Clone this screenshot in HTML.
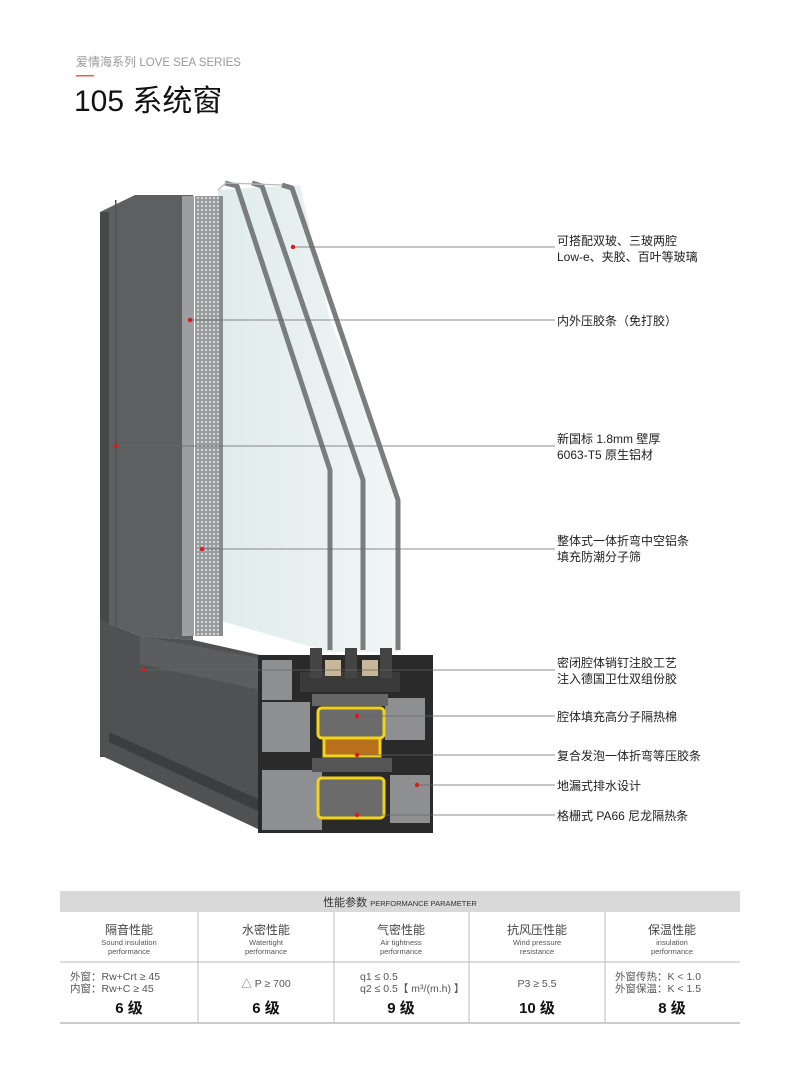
<!DOCTYPE html>
<html><head><meta charset="utf-8"><style>
body{margin:0;width:800px;height:1080px;background:#fff;overflow:hidden;font-family:"Liberation Sans","Noto Sans CJK SC",sans-serif}
</style></head><body>
<svg width="800" height="1080" xmlns="http://www.w3.org/2000/svg" style="position:absolute;left:0;top:0">
<defs>
<linearGradient id="gl" x1="0" x2="1"><stop offset="0" stop-color="#dfeceb"/><stop offset="1" stop-color="#f1f6f5"/></linearGradient>
<pattern id="dots" width="4" height="4" patternUnits="userSpaceOnUse"><rect width="4" height="4" fill="#9a9d9e"/><rect x="1" y="1" width="2" height="2" fill="#d2d5d5"/></pattern>
</defs>
<text x="76" y="66" font-size="12" fill="#999">爱情海系列 <tspan font-size="11.5">LOVE SEA SERIES</tspan></text>
<rect x="76" y="75" width="18" height="1.5" fill="#e06060"/>
<text x="74" y="111" font-size="30" fill="#111">105 系统窗</text>

<polygon points="218,190 300,185 330,320 400,500 400,652 330,652 218,620" fill="url(#gl)"/>
<polygon points="100,212 135,195 193,195 193,640 140,636 100,620" fill="#5e5f61"/>
<rect x="100" y="212" width="9" height="545" fill="#47484a"/>
<rect x="115" y="200" width="1.5" height="430" fill="#505153"/>
<rect x="182" y="196" width="12" height="440" fill="#9c9ea0"/>
<rect x="195" y="196" width="24" height="440" fill="url(#dots)"/>
<rect x="219" y="196" width="4" height="440" fill="#8a8d8f"/>
<g fill="none" stroke="#7a7d7f" stroke-width="5" stroke-linejoin="round">
<polyline points="225,183 237,186 330,470 330,650"/>
<polyline points="252,183 262,186 363,480 363,650"/>
<polyline points="282,185 292,188 398,500 398,650"/>
</g>
<g fill="none" stroke="#b9bcbc" stroke-width="1.2">
<polyline points="218,190 226,183 282,185"/>
</g>
<polygon points="100,620 140,636 193,640 260,655 260,830 100,755" fill="#505153"/>
<polygon points="109,732 260,800 260,812 109,742" fill="#3c3d3e"/>
<polygon points="140,636 260,658 260,690 140,664" fill="#5c5d5f"/>
<rect x="258" y="655" width="175" height="178" fill="#2a2a2b"/>
<g fill="#8d8f90">
<rect x="262" y="660" width="30" height="40"/><rect x="262" y="702" width="48" height="50"/>
<rect x="262" y="770" width="60" height="60"/><rect x="385" y="698" width="40" height="42"/>
<rect x="390" y="775" width="40" height="48"/><rect x="300" y="672" width="100" height="20" fill="#3a3a3b"/>
</g>
<rect x="310" y="648" width="12" height="30" fill="#444"/><rect x="345" y="648" width="12" height="30" fill="#444"/><rect x="380" y="648" width="12" height="30" fill="#444"/>
<rect x="325" y="660" width="16" height="16" fill="#c8b89a"/><rect x="362" y="660" width="16" height="16" fill="#c8b89a"/>
<rect x="312" y="694" width="76" height="12" fill="#666"/>
<g stroke="#f2d21a" stroke-width="3" fill="#6b6b6b">
<rect x="318" y="708" width="66" height="30" rx="4"/>
<rect x="318" y="778" width="66" height="40" rx="4"/>
</g>
<rect x="324" y="738" width="56" height="18" fill="#b8701a" stroke="#f2d21a" stroke-width="3"/>
<rect x="312" y="758" width="80" height="14" fill="#555"/>

<g stroke="#666" stroke-width="0.7">
<line x1="293" y1="247" x2="555" y2="247"/>
<line x1="190" y1="320" x2="555" y2="320"/>
<line x1="116" y1="446" x2="555" y2="446"/>
<line x1="202" y1="549" x2="555" y2="549"/>
<line x1="143" y1="670" x2="555" y2="670"/>
<line x1="357" y1="716" x2="555" y2="716"/>
<line x1="357" y1="755" x2="555" y2="755"/>
<line x1="417" y1="785" x2="555" y2="785"/>
<line x1="357" y1="815" x2="555" y2="815"/>
</g>
<g fill="#e01818">
<circle cx="293" cy="247" r="2.2"/><circle cx="190" cy="320" r="2.2"/><circle cx="116" cy="446" r="2.2"/>
<circle cx="202" cy="549" r="2.2"/><circle cx="143" cy="670" r="2.2"/><circle cx="357" cy="716" r="2.2"/>
<circle cx="357" cy="755" r="2.2"/><circle cx="417" cy="785" r="2.2"/><circle cx="357" cy="815" r="2.2"/>
</g>
<g font-size="12" fill="#222">
<text x="557" y="245">可搭配双玻、三玻两腔</text><text x="557" y="261">Low-e、夹胶、百叶等玻璃</text>
<text x="557" y="325">内外压胶条（免打胶）</text>
<text x="557" y="443">新国标 1.8mm 壁厚</text><text x="557" y="459">6063-T5 原生铝材</text>
<text x="557" y="545">整体式一体折弯中空铝条</text><text x="557" y="561">填充防潮分子筛</text>
<text x="557" y="667">密闭腔体销钉注胶工艺</text><text x="557" y="683">注入德国卫仕双组份胶</text>
<text x="557" y="721">腔体填充高分子隔热棉</text>
<text x="557" y="760">复合发泡一体折弯等压胶条</text>
<text x="557" y="790">地漏式排水设计</text>
<text x="557" y="820">格栅式 PA66 尼龙隔热条</text>
</g>

<rect x="60" y="891" width="680" height="21" fill="#d9d9d9"/>
<text x="400" y="906" font-size="11" fill="#333" text-anchor="middle">性能参数 <tspan font-size="7.5">PERFORMANCE PARAMETER</tspan></text>
<g stroke="#bbb" stroke-width="1">
<line x1="60" y1="962" x2="740" y2="962"/>
<line x1="60" y1="1023" x2="740" y2="1023" stroke-width="1.5"/>
<line x1="198" y1="912" x2="198" y2="1023"/><line x1="334" y1="912" x2="334" y2="1023"/>
<line x1="469" y1="912" x2="469" y2="1023"/><line x1="605" y1="912" x2="605" y2="1023"/>
</g>
<g font-size="12" fill="#444" text-anchor="middle">
<text x="129" y="934">隔音性能</text><text x="266" y="934">水密性能</text><text x="401" y="934">气密性能</text><text x="537" y="934">抗风压性能</text><text x="672" y="934">保温性能</text>
</g>
<g font-size="7.5" fill="#555" text-anchor="middle">
<text x="129" y="945">Sound insulation</text><text x="129" y="954">performance</text>
<text x="266" y="945">Watertight</text><text x="266" y="954">performance</text>
<text x="401" y="945">Air tightness</text><text x="401" y="954">performance</text>
<text x="537" y="945">Wind pressure</text><text x="537" y="954">resistance</text>
<text x="672" y="945">insulation</text><text x="672" y="954">performance</text>
</g>
<g font-size="10.5" fill="#555">
<text x="70" y="980">外窗：Rw+Crt ≥ 45</text><text x="70" y="992">内窗：Rw+C ≥ 45</text>
<text x="266" y="987" text-anchor="middle">△ P ≥ 700</text>
<text x="360" y="980">q1 ≤ 0.5</text><text x="360" y="992">q2 ≤ 0.5【 m³/(m.h) 】</text>
<text x="537" y="987" text-anchor="middle">P3 ≥ 5.5</text>
<text x="615" y="980">外窗传热：K &lt; 1.0</text><text x="615" y="992">外窗保温：K &lt; 1.5</text>
</g>
<g font-size="15" font-weight="bold" fill="#111" text-anchor="middle">
<text x="129" y="1013">6 级</text><text x="266" y="1013">6 级</text><text x="401" y="1013">9 级</text><text x="537" y="1013">10 级</text><text x="672" y="1013">8 级</text>
</g>
</svg>
</body></html>
